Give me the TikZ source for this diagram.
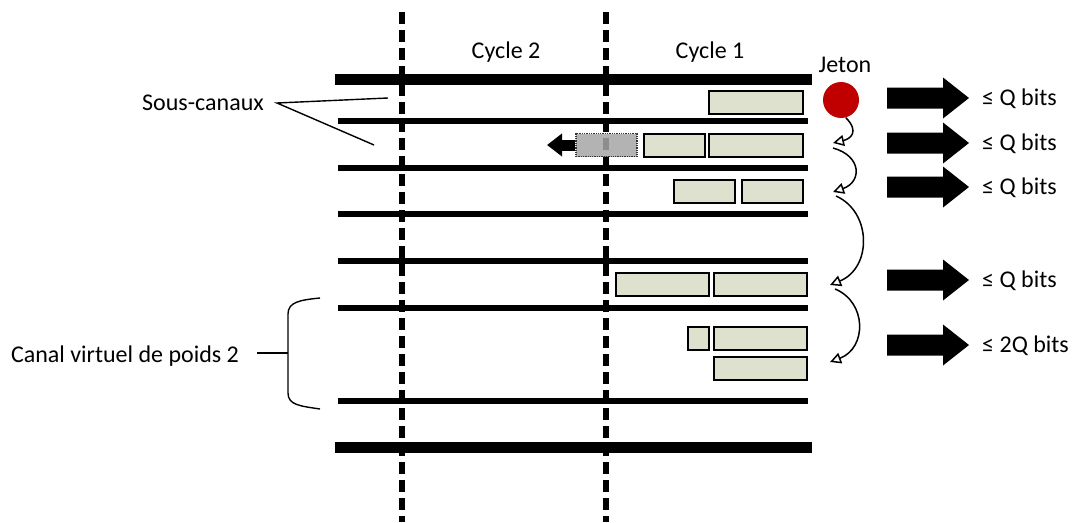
\documentclass[tikz,border=0pt]{standalone}
\usepackage{fontspec}
\setmainfont{Carlito}
\usetikzlibrary{arrows.meta}
\definecolor{boxgreen}{RGB}{221,225,205}
\definecolor{jetonred}{RGB}{192,0,0}
\definecolor{movgray}{RGB}{166,166,166}
\begin{document}
\begin{tikzpicture}[x=1pt,y=-1pt,
  lab/.style={font=\fontsize{24}{28}\selectfont, inner sep=0pt, anchor=base},
  labw/.style={lab, anchor=base west},
  thickbar/.style={line width=11pt},
  thinbar/.style={line width=5.5pt},
  cycleline/.style={line width=6pt, dash pattern=on 12pt off 6pt},
  pkt/.style={draw=black, line width=2pt, fill=boxgreen, inner sep=0pt, minimum height=23pt},
  movpkt/.style={draw=black!80, line width=1.3pt, densely dotted, fill=movgray, fill opacity=0.85, inner sep=0pt, minimum height=23pt, minimum width=61pt},
  tok/.style={-{Triangle[open,length=11pt,width=11pt]}, line width=1.5pt},
  thin/.style={line width=1.4pt},
  bigarrow/.style={fill=black}
]
\useasboundingbox (0,0) rectangle (1078,522);

% cycle boundaries
\coordinate (c2top) at (402,12); \coordinate (c2bot) at (402,522);
\coordinate (c1top) at (606,12); \coordinate (c1bot) at (606,522);
\draw[cycleline] (c2top) -- (c2bot);
\draw[cycleline] (c1top) -- (c1bot);

% horizontal bars
\coordinate (tL) at (335,79); \coordinate (tR) at (812,79);
\coordinate (bL) at (335,447); \coordinate (bR) at (812,447);
\draw[thickbar] (tL) -- (tR);
\draw[thickbar] (bL) -- (bR);
\foreach \y/\n in {121/a,168/b,214/c,261/d,308/e,401/f}{
  \coordinate (l\n) at (338,\y); \coordinate (r\n) at (808,\y);
  \draw[thinbar] (l\n) -- (r\n);
}

% labels
\node[lab] (cyc2) at (506,58) {Cycle 2};
\node[lab] (cyc1) at (710,58) {Cycle 1};
\node[lab] (jetlab) at (845,72) {Jeton};
\node[lab] (sc) at (203,110) {Sous-canaux};
\node[lab] (cv) at (125,362) {Canal virtuel de poids 2};

% packets
\node[pkt, minimum width=94pt] (p11) at (756,102) {};
\node[pkt, minimum width=61pt] (p21) at (674.5,145) {};
\node[pkt, minimum width=94pt] (p22) at (756,145) {};
\node[movpkt] (pm) at (606.5,145) {};
\node[pkt, minimum width=61pt] (p31) at (704.5,191) {};
\node[pkt, minimum width=61pt] (p32) at (772.5,191) {};
\node[pkt, minimum width=93pt] (p51) at (662.5,284.5) {};
\node[pkt, minimum width=93pt] (p52) at (760.5,284.5) {};
\node[pkt, minimum width=21pt] (p61) at (698.5,338) {};
\node[pkt, minimum width=93pt] (p62) at (760.5,338) {};
\node[pkt, minimum width=93pt] (p63) at (760.5,368.5) {};

% moving arrow
\coordinate (mvend) at (547,145);
\draw[line width=11pt, -{Triangle[length=15pt,width=22pt]}] (pm.west) -- (mvend);

% token
\node[circle, fill=jetonred, minimum size=36pt, inner sep=0pt] (jet) at (841,100) {};
\coordinate (t1) at (833,143);
\coordinate (s2) at (833,148); \coordinate (t2) at (833,192);
\coordinate (s3) at (836,196); \coordinate (t3) at (830,285);
\coordinate (s4) at (835,289); \coordinate (t4) at (830,362);
\draw[tok] (jet.-75) .. controls (860,132) and (850,139) .. (t1);
\draw[tok] (s2) .. controls (862,156) and (862,182) .. (t2);
\draw[tok] (s3) .. controls (872,212) and (872,268) .. (t3);
\draw[tok] (s4) .. controls (867,302) and (867,348) .. (t4);

% sous-canaux pointer
\coordinate (sctip) at (277,103);
\coordinate (sca) at (388,98);
\coordinate (scb) at (374,145);
\draw[thin] (sca) -- (sctip) -- (scb);

% brace
\coordinate (brtop) at (320,298);
\coordinate (brbot) at (320,409);
\coordinate (brmid) at (288,353);
\coordinate (cvtick) at (257,353);
\draw[thin] (brtop) .. controls (300,300) and (288,302) .. (288,314) -- (288,393) .. controls (288,405) and (300,406) .. (brbot);
\draw[thin] (cvtick) -- (brmid);

% output arrows and labels
\foreach \y/\t/\n in {98/{≤ Q bits}/o1,143/{≤ Q bits}/o2,187/{≤ Q bits}/o3,280/{≤ Q bits}/o4,345/{≤ 2Q bits}/o5}{
  \fill[bigarrow] (887,\y-10.5) -- (943,\y-10.5) -- (943,\y-20.5) -- (969,\y) -- (943,\y+20.5) -- (943,\y+10.5) -- (887,\y+10.5) -- cycle;
  \node[labw] (\n) at (982,\y+7) {\t};
}
\end{tikzpicture}
\end{document}
